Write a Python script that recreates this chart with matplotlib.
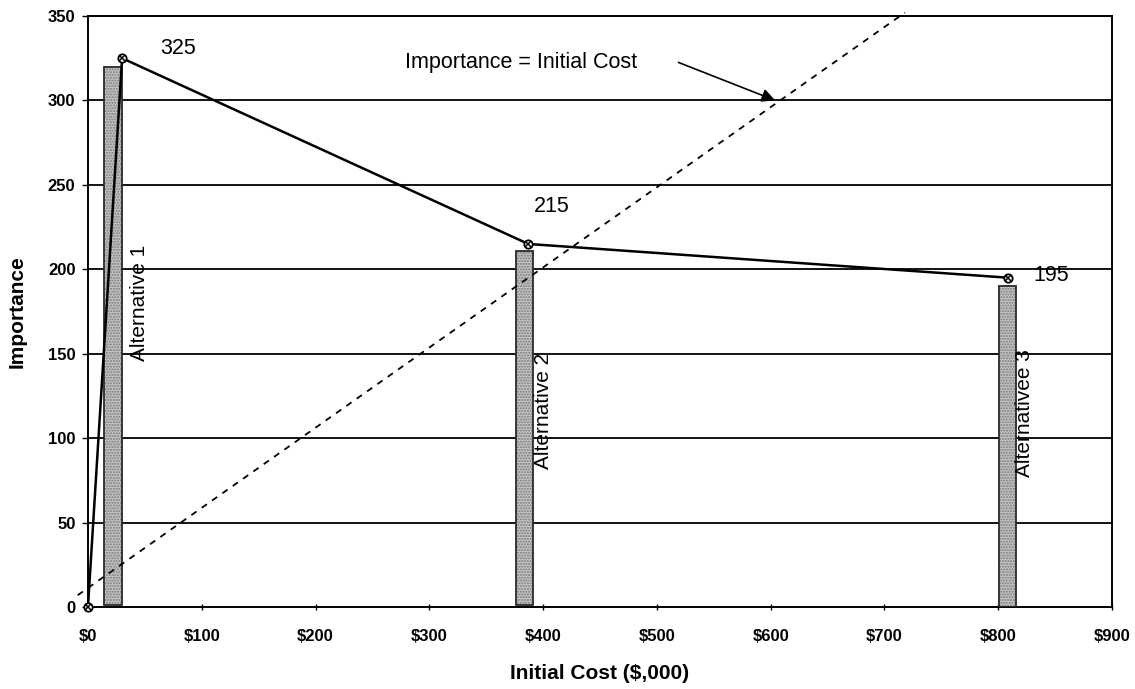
import matplotlib
matplotlib.use("Agg")
import matplotlib.pyplot as plt

plt.rcParams['font.family'] = ['Liberation Sans', 'DejaVu Sans']

# Importance vs. initial cost of each alternative
cost = [0, 30, 387, 809]
importance = [0, 325, 215, 195]
point_labels = ["", "325", "215", "195"]

# Vertical bars marking the alternatives
bar_x = [22, 384, 808]
bar_top = [320, 211, 190]
bar_bottom = [1, 1, 0]
bar_names = ["Alternative 1", "Alternative 2", "Alternativee 3"]

# Reference line where importance equals initial cost
ref_x = [-9, 718]
ref_y = [7, 352]

x_ticks = [0, 100, 200, 300, 400, 500, 600, 700, 800, 900]
x_tick_labels = ["$0", "$100", "$200", "$300", "$400", "$500", "$600", "$700", "$800", "$900"]
y_ticks = [0, 50, 100, 150, 200, 250, 300, 350]

fig = plt.figure(figsize=(11.35, 6.89), dpi=100)
ax = fig.add_axes([0.0775, 0.119, 0.9022, 0.8578])
ax.set_xlim(0, 900)
ax.set_ylim(0, 350)

# horizontal gridlines
for yv in y_ticks[1:]:
    ax.axhline(yv, color='black', lw=1.3, zorder=1)

# bars: stippled fill plus a dark outline
heights = [t - b for t, b in zip(bar_top, bar_bottom)]
ax.bar(bar_x, heights, width=15, bottom=bar_bottom, color='#c4c4c4',
       hatch='......', edgecolor='#7a7a7a', linewidth=0, zorder=2)
ax.bar(bar_x, heights, width=15, bottom=bar_bottom, fill=False,
       edgecolor='#2a2a2a', linewidth=1.3, zorder=3)

label_offsets = [23, 16, 15]
label_heights = [180, 116, 115]
for bx, name, dx, ty in zip(bar_x, bar_names, label_offsets, label_heights):
    ax.text(bx + dx, ty, name, rotation=90,
            ha='center', va='center', fontsize=15, zorder=5)

# reference dashed line
ax.plot(ref_x, ref_y, color='black', lw=1.3, ls=(0, (3.5, 3.5)),
        clip_on=False, zorder=4)

# importance line with markers
ax.plot(cost, importance, color='black', lw=1.8, zorder=6, clip_on=False)
ax.plot(cost, importance, ls='none', marker='o', ms=6, mfc='white',
        mec='black', mew=1.3, zorder=7, clip_on=False)
ax.plot(cost, importance, ls='none', marker='x', ms=4.5, mec='black',
        mew=1.1, zorder=8, clip_on=False)

label_pos = [None, (79.5, 331), (408, 237), (847, 196.5)]
for lab, pos in zip(point_labels, label_pos):
    if pos is not None:
        ax.text(pos[0], pos[1], lab, ha='center', va='center', fontsize=15.5)

# annotation for the reference line
ax.annotate("", xy=(604, 300), xytext=(519, 322.5),
            arrowprops=dict(arrowstyle='-|>', color='black', lw=1.2,
                            mutation_scale=20, shrinkA=0, shrinkB=0))
ax.text(279, 322.5, "Importance = Initial Cost", ha='left', va='center',
        fontsize=15.5)

ax.set_xticks(x_ticks)
ax.set_xticklabels(x_tick_labels, fontweight='bold', fontsize=12)
ax.set_yticks(y_ticks)
ax.set_yticklabels([str(v) for v in y_ticks], fontweight='bold', fontsize=12)
ax.tick_params(axis='x', direction='inout', length=5, width=1, pad=13)
ax.tick_params(axis='y', direction='out', length=4, width=1, pad=5)

for sp in ax.spines.values():
    sp.set_color('black')
    sp.set_linewidth(1.4)

ax.set_xlabel("Initial Cost ($,000)", fontweight='bold', fontsize=15, va='center')
ax.xaxis.set_label_coords(0.5, -0.1117)
ax.set_ylabel("Importance", fontweight='bold', fontsize=15, va='center')
ax.yaxis.set_label_coords(-0.0693, 0.5)

fig.savefig("out.png", dpi=100)
